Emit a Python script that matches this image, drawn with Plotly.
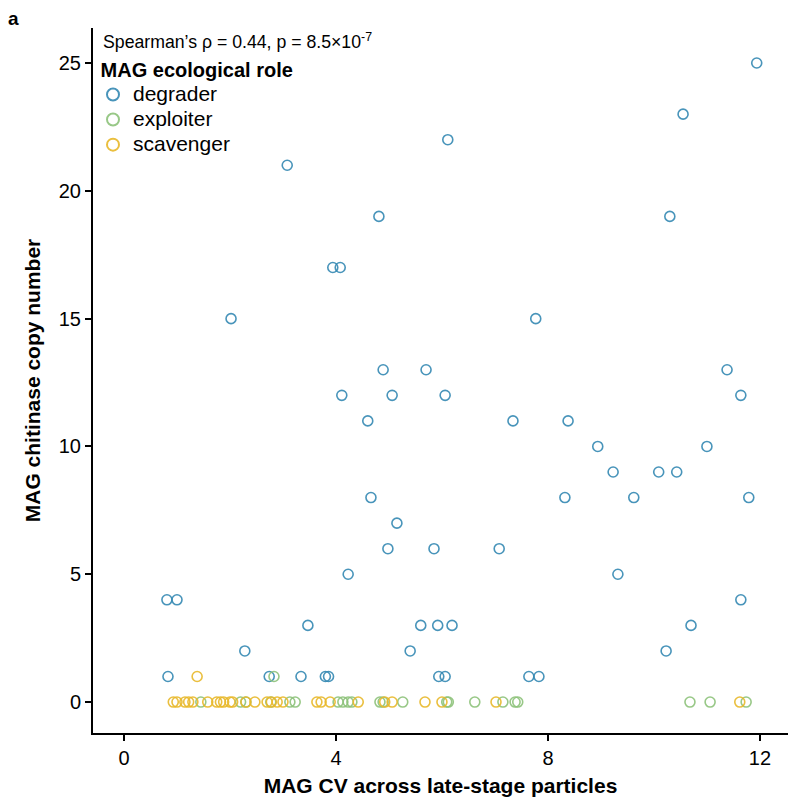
import plotly.graph_objects as go

# degrader (x = CV, y = chitinase copy number)
deg_x = [0.81, 1.0, 0.83, 2.02, 2.28, 3.08, 2.74, 3.34, 3.47, 3.80, 3.86, 3.94, 4.08, 4.11, 4.23,
         4.60, 4.66, 4.81, 4.89, 4.98, 5.06, 5.15, 5.40, 5.60, 5.70, 5.85, 5.92, 5.94, 6.06, 6.06,
         6.11, 6.19, 7.08, 7.34, 7.64, 7.77, 7.83, 8.32, 8.38, 8.94, 9.23, 9.32, 9.62, 10.09, 10.23,
         10.30, 10.43, 10.55, 10.70, 11.00, 11.38, 11.64, 11.64, 11.79, 11.94]
deg_y = [4, 4, 1, 15, 2, 21, 1, 1, 3, 1, 1, 17, 17, 12, 5,
         11, 8, 19, 13, 6, 12, 7, 2, 3, 13, 6, 3, 1, 1, 12,
         22, 3, 6, 11, 1, 15, 1, 8, 11, 10, 9, 5, 8, 9, 2,
         19, 9, 23, 3, 10, 13, 4, 12, 8, 25]

# exploiter
exp_x = [1.45, 2.20, 2.30, 2.77, 3.13, 3.23, 4.04, 4.13, 4.23, 4.30, 4.83, 4.89, 5.26, 6.09,
         6.12, 6.62, 7.15, 7.38, 7.43, 10.68, 11.06, 11.74, 2.83]
exp_y = [0] * 22 + [1]

# scavenger
sca_x = [0.93, 1.0, 1.15, 1.22, 1.30, 1.58, 1.75, 1.82, 1.88, 2.0, 2.05, 2.30, 2.47, 2.70,
         2.78, 2.89, 3.0, 3.64, 3.72, 3.89, 4.42, 4.92, 5.06, 5.68, 6.0, 7.02, 11.62, 1.38]
sca_y = [0] * 27 + [1]

roles = ["degrader", "exploiter", "scavenger"]
colors = ["#3488B2", "#8DC27A", "#E8B82A"]
xs = [deg_x, exp_x, sca_x]
ys = [deg_y, exp_y, sca_y]

x_ticks = [0, 4, 8, 12]
y_ticks = [0, 5, 10, 15, 20, 25]

fig = go.Figure()
for name, c, x, y in zip(roles, colors, xs, ys):
    fig.add_trace(go.Scatter(
        x=x, y=y, mode="markers",
        name='<span style="font-size:21px">' + name + '</span>',
        marker=dict(symbol="circle-open", size=10, color=c, opacity=0.9,
                    line=dict(width=1.6, color=c)),
    ))

FONT = "Liberation Sans, Arial, sans-serif"
fig.update_layout(
    width=790, height=797,
    margin=dict(l=93, r=2, t=28, b=64),
    paper_bgcolor="white", plot_bgcolor="white",
    font=dict(family=FONT, size=17, color="black"),
    showlegend=True,
    legend=dict(
        x=0.0, y=0.962, xanchor="left", yanchor="top",
        title=dict(text='<span style="font-size:20px"><b>&nbsp;MAG ecological role</b></span>',
                   font=dict(size=17)),
        font=dict(size=17), bgcolor="rgba(0,0,0,0)",
        tracegroupgap=0, itemsizing="constant",
    ),
    xaxis=dict(
        range=[-0.585, 12.53], tickvals=x_ticks, ticktext=[str(v) for v in x_ticks],
        showgrid=False, zeroline=False, showline=True, linecolor="black", linewidth=2,
        ticks="outside", ticklen=6, tickwidth=1.5, tickcolor="black",
        tickfont=dict(size=20, color="black"),
        title=dict(text="<b>MAG CV across late-stage particles</b>", font=dict(size=21), standoff=10),
    ),
    yaxis=dict(
        range=[-1.21, 26.37], tickvals=y_ticks, ticktext=[str(v) for v in y_ticks],
        showgrid=False, zeroline=False, showline=True, linecolor="black", linewidth=2,
        ticks="outside", ticklen=6, tickwidth=1.5, tickcolor="black",
        tickfont=dict(size=20, color="black"),
        title=dict(text="<b>MAG chitinase copy number</b>", font=dict(size=21), standoff=12),
    ),
)

fig.add_annotation(
    text="Spearman\u2019s \u03c1 = 0.44, p = 8.5\u00d710<sup>-7</sup>",
    xref="paper", yref="paper", x=0.012, y=1.0, xanchor="left", yanchor="top",
    showarrow=False, font=dict(size=17.7, color="black"),
)
fig.add_annotation(
    text="<b>a</b>", xref="paper", yref="paper", x=-0.125, y=1.031,
    xanchor="left", yanchor="top", showarrow=False, font=dict(size=19, color="black"),
)

fig.write_html("out.html")
